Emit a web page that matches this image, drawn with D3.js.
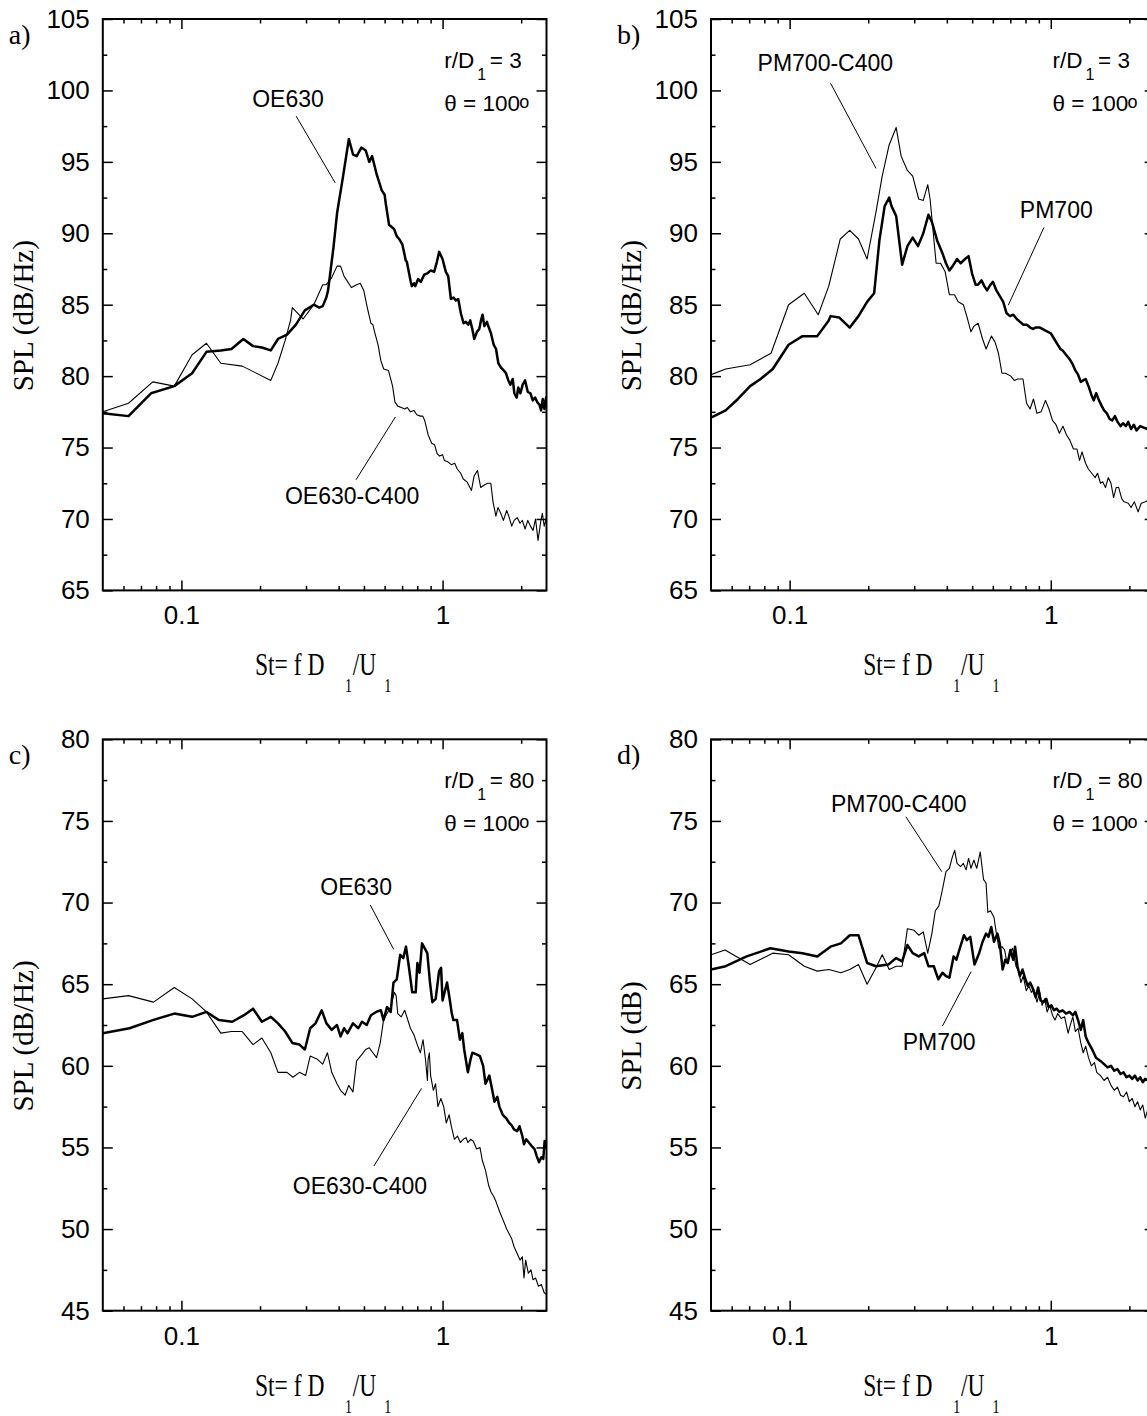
<!DOCTYPE html>
<html>
<head>
<meta charset="utf-8">
<script src="https://cdn.jsdelivr.net/npm/d3@7"></script>
<style>
  body { margin: 0; background: #fff; }
  svg { display: block; }
</style>
</head>
<body>
<svg id="fig" width="1147" height="1416"></svg>
<script>
// ---- Spectra: [St, SPL] pairs -------------------------------------------
// a) r/D1 = 3, OE630 nozzle (thick) and OE630-C400 (thin)
const a_OE630 = [[0.05,77.4],[0.0627,77.2],[0.0765,78.8],[0.0939,79.3],[0.1099,80.2],[0.1247,81.7],[0.1415,81.8],[0.1555,81.9],[0.1726,82.6],[0.188,82.1],[0.2033,82.0],[0.2199,81.8],[0.2343,82.6],[0.2537,82.9],[0.2745,83.6],[0.2969,84.6],[0.3213,85.0],[0.3368,84.8],[0.3476,84.9],[0.3588,85.5],[0.3644,86.0],[0.3821,89.0],[0.3944,91.4],[0.4135,93.7],[0.4377,96.6],[0.4545,95.5],[0.469,95.4],[0.4887,96.0],[0.5076,95.8],[0.5239,95.0],[0.5373,95.4],[0.5579,94.2],[0.5849,93.0],[0.5999,92.7],[0.6058,92.1],[0.6238,90.6],[0.652,90.3],[0.6676,89.8],[0.6817,89.6],[0.702,89.2],[0.7228,88.1],[0.7297,88.0],[0.7553,86.6],[0.7627,86.3],[0.7781,86.5],[0.786,86.3],[0.806,86.8],[0.8254,86.6],[0.8502,87.1],[0.8753,87.2],[0.9016,87.4],[0.9285,87.3],[0.951,88.0],[0.9705,88.7],[0.9995,88.2],[1.029,87.3],[1.051,87.0],[1.076,85.4],[1.102,85.5],[1.124,85.3],[1.148,85.4],[1.175,84.4],[1.203,83.7],[1.228,83.8],[1.254,83.6],[1.276,83.9],[1.303,83.2],[1.322,82.6],[1.354,83.1],[1.382,83.3],[1.403,83.9],[1.423,84.3],[1.445,83.5],[1.479,83.8],[1.49,83.6],[1.532,83.0],[1.569,82.2],[1.602,81.9],[1.635,80.9],[1.674,80.6],[1.714,80.4],[1.75,80.2],[1.786,79.7],[1.818,79.4],[1.856,79.8],[1.883,78.8],[1.922,78.5],[1.95,79.2],[1.986,78.8],[2.027,79.4],[2.07,79.7],[2.119,78.9],[2.169,78.8],[2.215,78.3],[2.261,78.5],[2.301,78.2],[2.349,78.0],[2.384,77.6],[2.419,78.4],[2.455,77.7],[2.49,78.5],[2.5,78.0]];
const a_OE630_C400 = [[0.05,77.5],[0.0627,78.1],[0.0777,79.6],[0.0939,79.3],[0.1099,81.5],[0.1247,82.3],[0.1415,80.9],[0.171,80.7],[0.2199,79.7],[0.2343,80.9],[0.2496,82.5],[0.2617,83.9],[0.2658,84.8],[0.2923,84.0],[0.3213,85.0],[0.3476,86.4],[0.3588,86.4],[0.3763,86.9],[0.3944,87.7],[0.4067,87.7],[0.4195,87.0],[0.4473,86.2],[0.469,86.4],[0.4838,86.5],[0.4991,86.0],[0.5149,84.8],[0.5318,83.7],[0.541,83.6],[0.549,83.1],[0.566,82.2],[0.58,81.1],[0.595,80.5],[0.6205,80.4],[0.6435,79.3],[0.6568,78.2],[0.6734,77.9],[0.6946,77.8],[0.7163,77.7],[0.733,77.8],[0.7529,77.5],[0.7766,77.6],[0.797,77.3],[0.8222,77.2],[0.84,77.2],[0.854,76.9],[0.8803,75.9],[0.9082,75.3],[0.9317,75.2],[0.952,74.6],[0.9737,74.4],[1.0,74.5],[1.016,74.1],[1.048,74.0],[1.08,73.8],[1.113,73.9],[1.138,73.5],[1.173,73.2],[1.2,72.8],[1.24,72.6],[1.29,72.0],[1.32,73.0],[1.36,73.4],[1.4,72.2],[1.45,72.4],[1.49,72.5],[1.53,72.5],[1.56,71.2],[1.6,70.2],[1.63,70.8],[1.67,70.4],[1.71,69.9],[1.76,70.6],[1.8,70.1],[1.84,69.5],[1.88,69.9],[1.93,70.1],[1.98,69.7],[2.02,69.9],[2.07,69.3],[2.12,69.9],[2.17,69.5],[2.22,69.2],[2.27,70.0],[2.32,68.5],[2.38,69.9],[2.41,70.4],[2.45,69.5],[2.5,70.1]];

// b) r/D1 = 3, PM700 (thick) and PM700-C400 (thin)
const b_PM700 = [[0.05,77.1],[0.0569,77.6],[0.0634,78.4],[0.0706,79.3],[0.0774,79.8],[0.0862,80.5],[0.0991,82.2],[0.112,82.8],[0.1276,82.8],[0.1412,83.9],[0.1434,84.2],[0.155,84.1],[0.17,83.4],[0.1835,84.2],[0.198,85.2],[0.2107,85.8],[0.2207,89.5],[0.2312,91.9],[0.2406,92.5],[0.2456,91.9],[0.2559,91.2],[0.2697,87.8],[0.2825,89.1],[0.296,89.7],[0.3102,89.1],[0.325,90.0],[0.3401,91.3],[0.3505,90.8],[0.3671,89.5],[0.3848,88.6],[0.3969,87.9],[0.409,87.4],[0.421,87.7],[0.4377,88.2],[0.4516,87.9],[0.4696,88.2],[0.4844,88.4],[0.4994,87.2],[0.5152,86.4],[0.5265,86.4],[0.543,86.7],[0.5564,86.3],[0.5702,86.0],[0.5877,86.4],[0.6004,86.6],[0.6192,86.0],[0.6382,85.6],[0.6575,85.2],[0.6774,84.4],[0.698,84.2],[0.719,84.3],[0.741,84.0],[0.763,83.8],[0.786,83.6],[0.81,83.6],[0.834,83.4],[0.855,83.3],[0.873,83.4],[0.909,83.4],[0.951,83.2],[1.0,83.0],[1.031,82.6],[1.063,82.2],[1.089,81.9],[1.11,81.8],[1.144,81.5],[1.179,81.2],[1.215,80.8],[1.242,80.4],[1.272,80.1],[1.303,79.6],[1.331,79.7],[1.36,79.8],[1.395,79.3],[1.43,78.7],[1.461,78.3],[1.492,78.8],[1.53,78.3],[1.568,77.9],[1.6,77.6],[1.64,77.4],[1.68,77.0],[1.72,76.9],[1.76,77.2],[1.8,76.8],[1.85,76.5],[1.89,76.7],[1.94,76.5],[1.98,76.8],[2.03,76.3],[2.08,76.6],[2.13,76.2],[2.2,76.5],[2.27,76.4],[2.34,76.3],[2.42,76.6],[2.5,76.4]];
const b_PM700_C400 = [[0.05,80.1],[0.0569,80.5],[0.0706,80.8],[0.0849,81.6],[0.0991,85.0],[0.1138,85.8],[0.1287,84.3],[0.1412,86.3],[0.1563,89.6],[0.1699,90.2],[0.1835,89.6],[0.198,88.2],[0.2142,91.5],[0.2262,94.0],[0.2406,96.2],[0.2559,97.4],[0.2673,95.4],[0.2825,94.4],[0.296,94.0],[0.3121,92.4],[0.325,92.3],[0.338,93.4],[0.345,92.4],[0.3639,87.9],[0.3785,87.9],[0.3942,87.3],[0.409,85.7],[0.428,85.7],[0.4418,85.2],[0.4626,85.0],[0.4768,84.2],[0.4948,83.1],[0.5076,83.5],[0.527,83.7],[0.548,82.6],[0.5654,81.9],[0.5925,82.8],[0.6113,82.4],[0.6305,81.6],[0.6502,80.2],[0.6706,80.2],[0.703,80.0],[0.7248,79.7],[0.7474,79.8],[0.7827,79.8],[0.8078,78.1],[0.833,77.7],[0.8584,78.4],[0.8852,77.4],[0.9182,77.5],[0.9545,78.3],[0.9843,77.7],[1.015,76.9],[1.047,76.6],[1.079,76.0],[1.113,76.5],[1.148,75.9],[1.184,75.5],[1.221,74.9],[1.259,74.9],[1.289,74.1],[1.317,74.7],[1.359,73.9],[1.393,73.5],[1.435,73.2],[1.48,72.9],[1.51,73.2],[1.55,72.5],[1.58,72.6],[1.62,72.2],[1.66,72.9],[1.7,72.5],[1.74,71.5],[1.78,72.2],[1.82,72.2],[1.87,71.4],[1.91,71.2],[1.98,71.1],[2.03,70.8],[2.09,71.2],[2.16,70.5],[2.22,71.1],[2.3,71.2],[2.36,71.3],[2.43,71.0],[2.5,71.2]];

// c) r/D1 = 80, OE630 (thick) and OE630-C400 (thin)
const c_OE630 = [[0.05,62.0],[0.0633,62.3],[0.0777,62.8],[0.0939,63.2],[0.1099,63.0],[0.1247,63.3],[0.1393,62.8],[0.1565,62.7],[0.1737,63.1],[0.188,63.5],[0.2033,62.7],[0.22,63.0],[0.2343,62.6],[0.2496,62.1],[0.2658,61.4],[0.2832,61.3],[0.297,61.0],[0.3112,62.3],[0.3261,62.6],[0.3445,63.4],[0.3592,62.6],[0.3763,62.2],[0.3942,62.5],[0.4067,61.8],[0.4195,62.3],[0.4328,62.0],[0.4538,62.6],[0.4758,62.3],[0.4912,62.7],[0.5124,62.5],[0.5318,63.1],[0.5567,63.3],[0.5806,63.4],[0.5942,62.8],[0.6127,63.6],[0.6329,63.3],[0.6487,65.1],[0.668,65.3],[0.688,66.8],[0.7074,66.6],[0.7243,67.3],[0.7424,66.1],[0.7654,64.5],[0.789,64.5],[0.8007,66.3],[0.816,65.7],[0.8344,67.5],[0.874,66.9],[0.895,65.1],[0.9137,63.9],[0.941,64.1],[0.9698,65.8],[0.9868,66.0],[1.0,64.0],[1.04,65.1],[1.062,64.2],[1.085,63.2],[1.1,62.8],[1.136,62.8],[1.165,61.6],[1.19,62.0],[1.21,61.0],[1.25,59.6],[1.28,60.4],[1.3,60.8],[1.35,60.7],[1.39,60.6],[1.43,60.0],[1.46,58.9],[1.51,59.4],[1.55,58.5],[1.58,57.8],[1.62,58.1],[1.65,57.5],[1.7,57.0],[1.75,56.8],[1.8,56.5],[1.83,56.4],[1.88,56.1],[1.93,56.0],[1.97,56.3],[2.02,55.7],[2.05,55.2],[2.09,55.5],[2.14,55.3],[2.19,55.1],[2.25,54.9],[2.29,54.5],[2.34,54.1],[2.39,54.4],[2.43,54.3],[2.46,55.4],[2.5,55.0]];
const c_OE630_C400 = [[0.05,64.1],[0.0627,64.3],[0.0782,63.9],[0.0939,64.8],[0.1099,64.1],[0.1247,63.3],[0.1415,62.0],[0.1555,62.1],[0.171,62.1],[0.188,61.3],[0.2033,61.7],[0.22,60.8],[0.2343,59.6],[0.2537,59.6],[0.2673,59.3],[0.2832,59.6],[0.299,59.4],[0.3112,60.6],[0.3317,60.4],[0.3474,60.1],[0.3624,60.8],[0.3763,59.6],[0.3942,58.9],[0.4067,58.5],[0.4235,58.2],[0.4371,58.8],[0.4538,58.4],[0.4686,60.3],[0.4912,60.7],[0.5074,61.0],[0.5239,61.1],[0.5411,60.8],[0.5588,60.5],[0.5771,61.4],[0.5942,62.8],[0.6127,63.2],[0.6329,63.6],[0.6535,64.5],[0.664,64.3],[0.6734,63.2],[0.6946,63.0],[0.7163,63.4],[0.733,62.9],[0.7529,62.3],[0.7766,61.9],[0.8,61.3],[0.8222,60.8],[0.8418,61.6],[0.86,60.4],[0.875,59.1],[0.88,60.4],[0.89,60.8],[0.9,59.4],[0.922,58.5],[0.94,58.9],[0.96,57.5],[0.985,58.0],[1.01,57.5],[1.033,56.5],[1.06,57.0],[1.08,56.3],[1.11,55.5],[1.14,55.7],[1.17,55.3],[1.2,55.5],[1.23,55.6],[1.25,55.3],[1.28,55.5],[1.31,55.4],[1.35,54.9],[1.39,55.0],[1.42,54.2],[1.46,53.6],[1.5,52.7],[1.53,52.3],[1.57,52.0],[1.6,51.7],[1.66,51.0],[1.71,50.5],[1.76,50.0],[1.8,49.7],[1.84,49.4],[1.88,48.9],[1.93,48.5],[1.98,48.1],[2.02,48.3],[2.05,47.0],[2.08,48.1],[2.13,47.3],[2.18,47.5],[2.22,46.9],[2.27,47.0],[2.33,46.5],[2.39,46.6],[2.45,46.1],[2.5,46.0]];

// d) r/D1 = 80, PM700 (thick) and PM700-C400 (thin)
const d_PM700 = [[0.05,65.9],[0.0569,66.1],[0.0685,66.7],[0.0844,67.2],[0.0991,67.0],[0.112,66.9],[0.1276,66.7],[0.1434,67.3],[0.1572,67.5],[0.17,68.0],[0.1835,68.0],[0.198,66.3],[0.2142,66.1],[0.2386,66.2],[0.2559,66.6],[0.2697,66.4],[0.2825,67.4],[0.296,66.9],[0.3121,66.7],[0.3276,66.9],[0.3401,66.1],[0.3565,66.1],[0.371,65.3],[0.3848,65.7],[0.3969,65.5],[0.409,65.4],[0.4245,66.7],[0.4353,66.5],[0.4485,67.2],[0.4652,68.0],[0.4768,67.7],[0.4917,67.9],[0.5104,66.2],[0.5318,66.9],[0.5482,67.6],[0.5652,68.1],[0.5774,67.9],[0.5916,68.5],[0.6061,67.6],[0.6248,68.1],[0.6376,67.5],[0.6542,65.9],[0.6698,66.5],[0.6843,66.3],[0.7003,67.1],[0.7178,66.5],[0.7299,67.3],[0.7454,66.1],[0.7614,65.5],[0.7797,65.9],[0.7995,65.3],[0.8163,64.9],[0.8339,65.1],[0.8549,64.7],[0.8758,64.2],[0.8947,64.8],[0.9142,64.0],[0.9371,63.9],[0.961,64.1],[0.9815,63.6],[1.006,63.7],[1.028,63.4],[1.053,63.5],[1.079,63.3],[1.11,63.4],[1.144,63.2],[1.179,63.3],[1.215,63.1],[1.242,63.3],[1.272,62.8],[1.303,62.2],[1.331,62.8],[1.36,61.8],[1.395,61.4],[1.43,61.1],[1.461,60.8],[1.49,60.5],[1.55,60.3],[1.6,60.1],[1.65,59.9],[1.7,60.0],[1.75,59.7],[1.8,59.8],[1.85,59.5],[1.9,59.6],[1.95,59.3],[2.0,59.4],[2.05,59.2],[2.1,59.4],[2.15,59.1],[2.2,59.3],[2.25,59.0],[2.3,59.2],[2.36,59.1],[2.43,59.2],[2.5,59.0]];
const d_PM700_C400 = [[0.05,66.8],[0.0566,67.1],[0.0706,66.2],[0.0862,66.9],[0.0991,66.8],[0.1138,66.1],[0.1276,65.8],[0.1412,65.9],[0.1572,65.7],[0.17,65.9],[0.1835,66.2],[0.198,65.0],[0.2142,66.0],[0.2262,66.8],[0.2406,65.9],[0.2559,66.1],[0.2697,66.1],[0.2825,68.4],[0.3,68.3],[0.3121,68.0],[0.325,68.2],[0.338,66.9],[0.3505,68.1],[0.3614,69.5],[0.3728,69.8],[0.3848,70.8],[0.3969,71.9],[0.409,72.1],[0.42,72.8],[0.4286,73.2],[0.4377,72.4],[0.4516,72.2],[0.4626,72.4],[0.474,72.0],[0.4844,72.7],[0.4948,72.1],[0.5076,72.6],[0.5206,72.1],[0.537,73.1],[0.553,71.4],[0.5652,71.2],[0.5742,69.4],[0.5877,69.5],[0.6061,69.1],[0.6192,68.1],[0.6326,67.2],[0.6502,67.3],[0.6656,67.1],[0.6797,66.3],[0.6932,66.8],[0.7135,67.2],[0.7358,66.1],[0.7529,65.8],[0.7686,65.1],[0.7843,65.5],[0.8054,64.6],[0.8251,64.9],[0.8428,64.5],[0.8605,64.7],[0.8852,63.9],[0.9073,64.5],[0.9266,63.7],[0.947,64.1],[0.9685,63.3],[0.9906,63.7],[1.015,63.1],[1.038,62.8],[1.063,63.2],[1.096,62.9],[1.13,63.0],[1.165,62.0],[1.193,62.6],[1.215,63.0],[1.242,62.1],[1.272,62.3],[1.303,61.4],[1.331,60.8],[1.36,61.2],[1.395,60.5],[1.43,60.0],[1.47,60.2],[1.5,59.6],[1.55,59.4],[1.6,59.1],[1.65,59.3],[1.7,58.8],[1.75,58.5],[1.8,58.7],[1.85,58.2],[1.9,58.1],[1.95,58.4],[2.0,57.8],[2.05,58.0],[2.1,57.5],[2.15,57.8],[2.2,57.3],[2.25,57.6],[2.3,56.8],[2.36,57.4],[2.43,56.5],[2.5,57.0]];

// ---- Axis ranges and ticks ---------------------------------------------
const stDomain = [0.05, 2.5];
const stMajorTicks = [0.1, 1];
const stMinorTicks = [0.06, 0.07, 0.08, 0.09, 0.2, 0.3, 0.4, 0.5, 0.6, 0.7, 0.8, 0.9, 2];
const splNear = [65, 105];   // r/D1 = 3
const splFar = [45, 80];     // r/D1 = 80

// ---- Curve callouts: label anchor and leader line, in data units ---------
const notesA = [
  { text: "OE630",      at: [0.256, 98.86],  from: [0.275, 98.2],   to: [0.388, 93.53] },
  { text: "OE630-C400", at: [0.4504, 71.07], from: [0.4664, 72.75], to: [0.6595, 77.14] }
];
const notesB = [
  { text: "PM700-C400", at: [0.137, 101.38], from: [0.1435, 100.5], to: [0.2142, 94.54] },
  { text: "PM700",      at: [1.05, 91.04],   from: [0.9417, 90.41], to: [0.6877, 84.97] }
];
const notesC = [
  { text: "OE630",      at: [0.4667, 70.46], from: [0.5287, 69.85], to: [0.6495, 67.14] },
  { text: "OE630-C400", at: [0.4827, 52.15], from: [0.5458, 53.86], to: [0.8305, 58.62] }
];
const notesD = [
  { text: "PM700-C400", at: [0.2618, 75.57], from: [0.2786, 75.26], to: [0.3826, 71.89] },
  { text: "PM700",      at: [0.3736, 60.97], from: [0.3849, 62.44], to: [0.4956, 65.77] }
];

// ---- Layout -------------------------------------------------------------
const PW = 443.7, PH = 571.4;
const SANS = "'Liberation Sans', Arial, Helvetica, sans-serif";
const SERIF = "'Liberation Serif', 'Times New Roman', Times, serif";

const panels = [
  { tag: "a)", left: 102.8, top: 19,    spl: splNear, thick: a_OE630, thin: a_OE630_C400, notes: notesA, yTitle: "SPL (dB/Hz)", dist: "3" },
  { tag: "b)", left: 711,   top: 19,    spl: splNear, thick: b_PM700, thin: b_PM700_C400, notes: notesB, yTitle: "SPL (dB/Hz)", dist: "3" },
  { tag: "c)", left: 102.8, top: 739.3, spl: splFar,  thick: c_OE630, thin: c_OE630_C400, notes: notesC, yTitle: "SPL (dB/Hz)", dist: "80" },
  { tag: "d)", left: 711,   top: 739.3, spl: splFar,  thick: d_PM700, thin: d_PM700_C400, notes: notesD, yTitle: "SPL (dB)",    dist: "80" }
];

const svg = d3.select("#fig");
svg.append("rect").attr("width", 1147).attr("height", 1416).attr("fill", "#fff");

panels.forEach((p, i) => {
  const x = d3.scaleLog().domain(stDomain).range([0, PW]);
  const y = d3.scaleLinear().domain(p.spl).range([PH, 0]);
  const g = svg.append("g").attr("transform", `translate(${p.left},${p.top})`);

  const clipId = "plot-clip-" + i;
  g.append("clipPath").attr("id", clipId)
    .append("rect").attr("width", PW).attr("height", PH);

  // spectra
  const line = d3.line().x(d => x(d[0])).y(d => y(d[1]));
  const curves = g.append("g").attr("clip-path", `url(#${clipId})`);
  curves.append("path").datum(p.thin)
    .attr("d", line).attr("fill", "none").attr("stroke", "#000")
    .attr("stroke-width", 1.1).attr("stroke-linejoin", "round");
  curves.append("path").datum(p.thick)
    .attr("d", line).attr("fill", "none").attr("stroke", "#000")
    .attr("stroke-width", 2.5).attr("stroke-linejoin", "round");

  // axes: inward ticks on all four sides
  const yMajor = d3.range(p.spl[0], p.spl[1] + 0.01, 5);
  const yMinor = d3.range(p.spl[0] + 2.5, p.spl[1], 5);
  const styleAxis = sel => {
    sel.select(".domain").remove();
    sel.selectAll(".tick line").attr("stroke", "#000").attr("stroke-width", 1.5);
    sel.selectAll("text").attr("font-family", SANS).attr("font-size", 26).attr("fill", "#000");
  };
  g.append("g").attr("transform", `translate(0,${PH})`)
    .call(d3.axisBottom(x).tickValues(stMajorTicks).tickSize(-10).tickPadding(15.5)
      .tickFormat(d => d === 1 ? "1" : "0.1"))
    .call(styleAxis);
  g.append("g").attr("transform", `translate(0,${PH})`)
    .call(d3.axisBottom(x).tickValues(stMinorTicks).tickSize(-4.5).tickFormat(""))
    .call(styleAxis);
  g.append("g")
    .call(d3.axisTop(x).tickValues(stMajorTicks).tickSize(-10).tickFormat(""))
    .call(styleAxis);
  g.append("g")
    .call(d3.axisTop(x).tickValues(stMinorTicks).tickSize(-4.5).tickFormat(""))
    .call(styleAxis);
  g.append("g")
    .call(d3.axisLeft(y).tickValues(yMajor).tickSize(-10).tickPadding(13).tickFormat(d3.format("d")))
    .call(styleAxis);
  g.append("g")
    .call(d3.axisLeft(y).tickValues(yMinor).tickSize(-4.5).tickFormat(""))
    .call(styleAxis);
  g.append("g").attr("transform", `translate(${PW},0)`)
    .call(d3.axisRight(y).tickValues(yMajor).tickSize(-10).tickFormat(""))
    .call(styleAxis);
  g.append("g").attr("transform", `translate(${PW},0)`)
    .call(d3.axisRight(y).tickValues(yMinor).tickSize(-4.5).tickFormat(""))
    .call(styleAxis);

  // frame
  g.append("rect").attr("width", PW).attr("height", PH)
    .attr("fill", "none").attr("stroke", "#000").attr("stroke-width", 2);

  // callouts
  p.notes.forEach(n => {
    g.append("line")
      .attr("x1", x(n.from[0])).attr("y1", y(n.from[1]))
      .attr("x2", x(n.to[0])).attr("y2", y(n.to[1]))
      .attr("stroke", "#000").attr("stroke-width", 1);
    g.append("text")
      .attr("x", x(n.at[0])).attr("y", y(n.at[1]))
      .attr("text-anchor", "middle")
      .attr("font-family", SANS).attr("font-size", 23)
      .text(n.text);
  });

  // measurement position: r/D1 = .. and theta = 100o
  const rd = g.append("text").attr("font-family", SANS).attr("font-size", 22.5).attr("fill", "#000");
  rd.append("tspan").attr("x", 341.5).attr("y", 49).text("r/D");
  rd.append("tspan").attr("x", 374.5).attr("y", 61).attr("font-size", 16).text("1");
  rd.append("tspan").attr("x", 387).attr("y", 49).text("= " + p.dist);
  const th = g.append("text").attr("font-family", SANS).attr("font-size", 22.5).attr("fill", "#000");
  th.append("tspan").attr("x", 341.5).attr("y", 91.5).text("\u03B8 = 100");
  th.append("tspan").attr("x", 416.5).attr("y", 89).attr("font-size", 18).text("o");

  // panel tag
  g.append("text").attr("x", -94).attr("y", 25)
    .attr("font-family", SERIF).attr("font-size", 28).text(p.tag);

  // y title
  g.append("text")
    .attr("transform", `translate(-70,${PH / 2 + 11}) rotate(-90)`)
    .attr("text-anchor", "middle")
    .attr("font-family", SERIF).attr("font-size", 29)
    .text(p.yTitle);

  // x title: St= f D1/U1, set in a vertically stretched serif
  const xt = g.append("g").attr("transform", `translate(0,${PH + 85}) scale(1,1.35)`)
    .append("text").attr("font-family", SERIF).attr("fill", "#000");
  xt.append("tspan").attr("x", 152.2).attr("y", 0).attr("font-size", 23.5).text("St= f D");
  xt.append("tspan").attr("x", 242.2).attr("y", 12.6).attr("font-size", 14).text("1");
  xt.append("tspan").attr("x", 250).attr("y", 0).attr("font-size", 23.5).text("/U");
  xt.append("tspan").attr("x", 281.5).attr("y", 12.6).attr("font-size", 14).text("1");
});
</script>
</body>
</html>
